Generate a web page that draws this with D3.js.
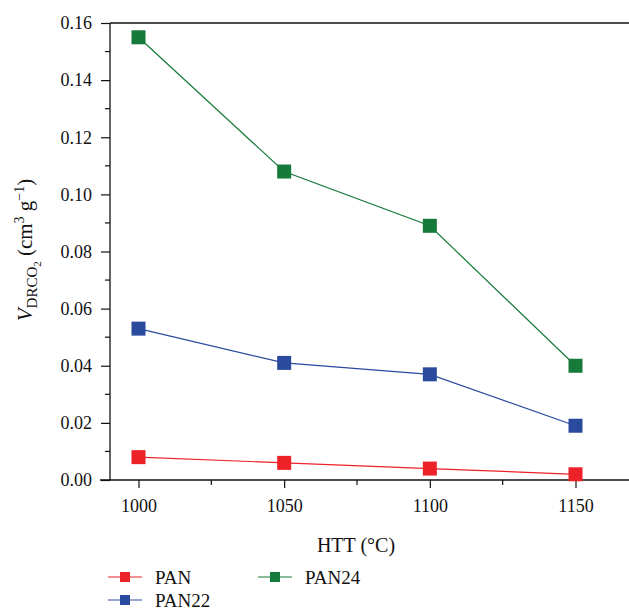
<!DOCTYPE html>
<html><head><meta charset="utf-8">
<script src="https://cdn.jsdelivr.net/npm/d3@7"></script>
<style>body{margin:0;background:#fff}svg{display:block}text{font-family:"Liberation Serif","Times New Roman","DejaVu Serif",serif !important;fill:#111}</style>
</head><body><svg id="c" width="629" height="611" font-family="Liberation Serif"></svg>
<script>
const htt = [1000, 1050, 1100, 1150];
const seriesNames = ["PAN", "PAN22", "PAN24"];
const panValues = [0.008, 0.006, 0.004, 0.002];
const pan22Values = [0.053, 0.041, 0.037, 0.019];
const pan24Values = [0.155, 0.108, 0.089, 0.040];
const yTicks = [0.00, 0.02, 0.04, 0.06, 0.08, 0.10, 0.12, 0.14, 0.16];
const xTicks = [1000, 1050, 1100, 1150];
const colors = ["#ed2128", "#2a4a9e", "#167a3a"];

const series = [panValues, pan22Values, pan24Values].map((v, i) => ({name: seriesNames[i], values: v, color: colors[i]}));
const FF = "Liberation Serif";

const svg = d3.select("#c");
const x = d3.scaleLinear().domain([1000, 1150]).range([138.5, 575.5]);
const y = d3.scaleLinear().domain([0, 0.16]).range([480, 23]);

// axes lines
svg.append("line").attr("x1", 100).attr("x2", 629).attr("y1", 480).attr("y2", 480).attr("stroke", "#111").attr("stroke-width", 1.3);
svg.append("line").attr("x1", 110).attr("x2", 110).attr("y1", 23).attr("y2", 480).attr("stroke", "#111").attr("stroke-width", 1.3);
svg.append("line").attr("x1", 110).attr("x2", 629).attr("y1", 23).attr("y2", 23).attr("stroke", "#111").attr("stroke-width", 1.3);

// y axis
const yAxis = d3.axisLeft(y).tickValues(yTicks).tickFormat(d3.format(".2f")).tickSize(9).tickPadding(9);
const gy = svg.append("g").attr("transform", "translate(110,0)").call(yAxis);
gy.attr("font-family", FF).attr("font-size", 18);
gy.select(".domain").remove();
gy.selectAll("line").attr("stroke", "#111").attr("stroke-width", 1.2);
gy.selectAll("text").attr("font-family", FF).style("font-size", "18px");
const yMinor = d3.range(0.01, 0.16, 0.02);
svg.append("g").selectAll("line").data(yMinor).join("line")
  .attr("x1", 105).attr("x2", 110).attr("y1", d => y(d)).attr("y2", d => y(d)).attr("stroke", "#111").attr("stroke-width", 1.2);

// x axis
const xAxis = d3.axisBottom(x).tickValues(xTicks).tickFormat(d3.format("d")).tickSize(8).tickPadding(11);
const gx = svg.append("g").attr("transform", "translate(0,480)").call(xAxis);
gx.attr("font-family", FF).attr("font-size", 18);
gx.select(".domain").remove();
gx.selectAll("line").attr("stroke", "#111").attr("stroke-width", 1.2);
gx.selectAll("text").attr("font-family", FF).style("font-size", "18px");
const xMinor = [1025, 1075, 1125];
svg.append("g").selectAll("line").data(xMinor).join("line")
  .attr("x1", d => x(d)).attr("x2", d => x(d)).attr("y1", 480).attr("y2", 485).attr("stroke", "#111").attr("stroke-width", 1.2);

// series
const line = d3.line().x((d, i) => x(htt[i])).y(d => y(d));
series.forEach(s => {
  svg.append("path").datum(s.values).attr("d", line).attr("fill", "none").attr("stroke", s.color).attr("stroke-width", 1.2);
  svg.append("g").selectAll("rect").data(s.values).join("rect")
    .attr("x", (d, i) => x(htt[i]) - 7).attr("y", d => y(d) - 7)
    .attr("width", 14).attr("height", 14).attr("fill", s.color);
});

// axis titles
svg.append("text").attr("x", 356).attr("y", 552).attr("text-anchor", "middle").style("font-size", "20px")
  .text("HTT (\u00B0C)");

const yl = svg.append("text").attr("transform", "translate(32,250) rotate(-90)").attr("text-anchor", "middle").style("font-size", "21px");
yl.append("tspan").style("font-style", "italic").text("V");
yl.append("tspan").attr("dy", 5).style("font-size", "15px").text("DRCO");
yl.append("tspan").attr("dy", 4).style("font-size", "11px").text("2");
yl.append("tspan").attr("dy", -9).text(" (cm");
yl.append("tspan").attr("dy", -8).style("font-size", "14px").text("3");
yl.append("tspan").attr("dy", 8).text(" g");
yl.append("tspan").attr("dy", -8).style("font-size", "14px").text("\u22121");
yl.append("tspan").attr("dy", 8).text(")");

// legend
const legPos = [[108, 577], [108, 600], [258, 577]];
series.forEach((s, i) => {
  const [lx, ly] = legPos[i];
  svg.append("line").attr("x1", lx).attr("x2", lx + 34).attr("y1", ly).attr("y2", ly).attr("stroke", s.color).attr("stroke-width", 1.2);
  svg.append("rect").attr("x", lx + 17 - 5).attr("y", ly - 5).attr("width", 10).attr("height", 10).attr("fill", s.color);
  svg.append("text").attr("x", lx + 47).attr("y", ly + 7).style("font-size", "19px").text(s.name);
});
</script></body></html>
